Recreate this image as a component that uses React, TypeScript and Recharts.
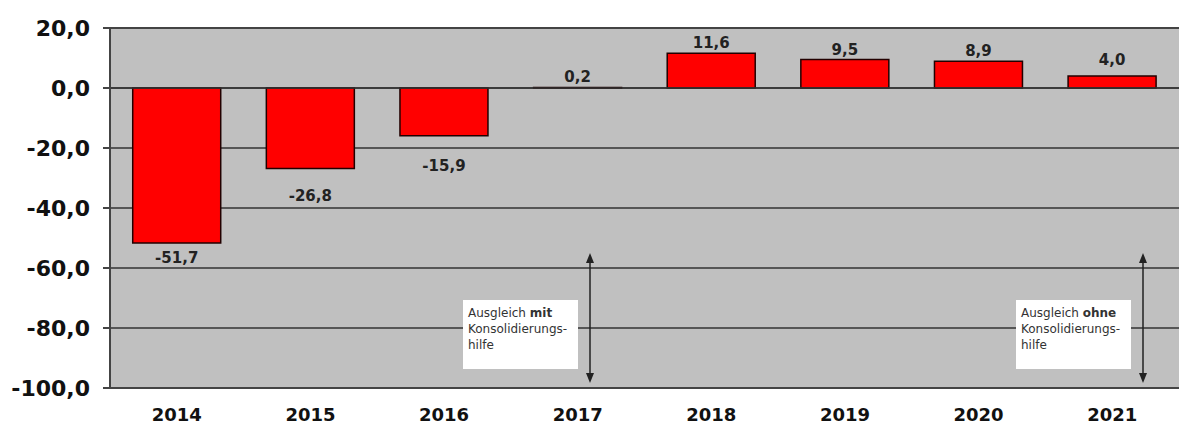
import { BarChart, Bar, XAxis, YAxis, CartesianGrid, ReferenceLine, LabelList } from "recharts";

const years = ["2014", "2015", "2016", "2017", "2018", "2019", "2020", "2021"];
const saldo = [-51.7, -26.8, -15.9, 0.2, 11.6, 9.5, 8.9, 4.0];
const yTicks = [-100, -80, -60, -40, -20, 0, 20];

const data = years.map((year, i) => ({ year, saldo: saldo[i] }));

const fmt = (v: number) => v.toFixed(1).replace(".", ",");

const font = "'DejaVu Sans', sans-serif";

// labels in the original were nudged by hand in a few places
const labelGap: Record<number, number> = { 1: 33, 2: 35, 7: 11 };

function BarLabel(props: any) {
  const { x, y, width, height, value, index } = props;
  const top = Math.min(y, y + height);
  const bottom = Math.max(y, y + height);
  const ty = value < 0 ? bottom + (labelGap[index] ?? 20) : top - (labelGap[index] ?? 5);
  return (
    <text
      x={x + width / 2}
      y={ty}
      textAnchor="middle"
      fontFamily={font}
      fontWeight="bold"
      fontSize={15}
      fill="#222"
    >
      {fmt(value)}
    </text>
  );
}

function Note({ left, strong }: { left: number; strong: string }) {
  return (
    <>
      <div
        style={{
          position: "absolute",
          left,
          top: 300,
          width: 115,
          height: 69,
          background: "#fff",
          fontFamily: font,
          fontSize: 12,
          lineHeight: "16px",
          color: "#333",
          padding: "5px 2px 0 5px",
          boxSizing: "border-box",
          whiteSpace: "nowrap",
        }}
      >
        Ausgleich <b>{strong}</b>
        <br />
        Konsolidierungs-
        <br />
        hilfe
      </div>
      <svg
        style={{ position: "absolute", left: left + 121, top: 252, overflow: "visible" }}
        width={12}
        height={134}
      >
        <line x1={6} y1={4} x2={6} y2={128} stroke="#222" strokeWidth={1.5} />
        <polygon points="6,1 2,11 10,11" fill="#222" />
        <polygon points="6,131 2,121 10,121" fill="#222" />
      </svg>
    </>
  );
}

export default function App() {
  return (
    <div style={{ position: "absolute", left: 0, top: 0, width: 1179, height: 425, background: "#fff" }}>
      <BarChart
        width={1179}
        height={425}
        data={data}
        margin={{ top: 28, right: 0, bottom: 0, left: 0 }}
        barCategoryGap="17%"
      >
        <CartesianGrid vertical={false} stroke="#333" strokeWidth={1.3} fill="#c0c0c0" fillOpacity={1} />
        <XAxis
          dataKey="year"
          axisLine={{ stroke: "#444", strokeWidth: 2 }}
          tickLine={false}
          tickSize={18}
          height={37}
          tick={{ fontFamily: font, fontWeight: "bold", fontSize: 18, fill: "#111" }}
        />
        <YAxis
          domain={[-100, 20]}
          ticks={yTicks}
          width={110}
          tickFormatter={fmt}
          axisLine={{ stroke: "#444", strokeWidth: 2 }}
          tickLine={{ stroke: "#444", strokeWidth: 2 }}
          tickSize={7}
          tickMargin={13}
          tick={{ fontFamily: font, fontWeight: "bold", fontSize: 22, fill: "#111" }}
        />
        <ReferenceLine y={20} stroke="#444" strokeWidth={2} />
        <ReferenceLine y={0} stroke="#333" strokeWidth={1.5} />
        <Bar dataKey="saldo" fill="#ff0000" stroke="#200" strokeWidth={1.5} isAnimationActive={false}>
          <LabelList dataKey="saldo" content={BarLabel} />
        </Bar>
      </BarChart>
      <Note left={463} strong="mit" />
      <Note left={1016} strong="ohne" />
    </div>
  );
}
